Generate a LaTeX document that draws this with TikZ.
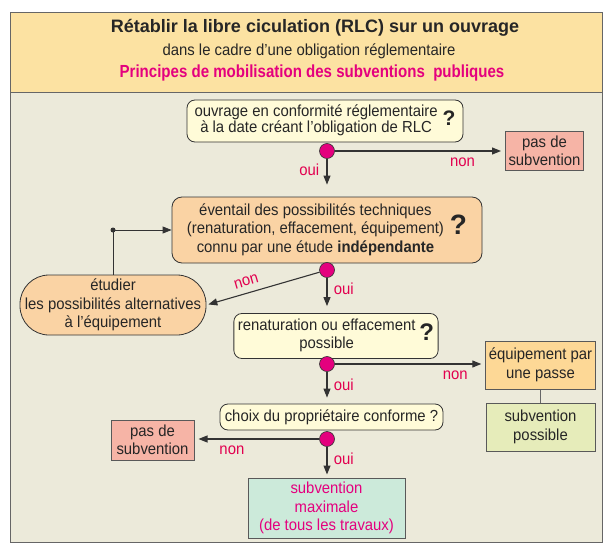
\documentclass[tikz,border=0pt]{standalone}
\usepackage{fontspec}
\setmainfont{Liberation Sans}[FakeStretch=0.93]
\newfontfamily\widefont{Liberation Sans}
\newfontfamily\narrowfont{Liberation Sans}[FakeStretch=0.86]
\usetikzlibrary{arrows.meta}
\definecolor{bandcol}{HTML}{FCE2A2}
\definecolor{groundcol}{HTML}{ECEADA}
\definecolor{askcol}{HTML}{FFFBD8}
\definecolor{orangecol}{HTML}{FAD3A4}
\definecolor{refusecol}{HTML}{F6B4A6}
\definecolor{passecol}{HTML}{FDD896}
\definecolor{greencol}{HTML}{E6ECBA}
\definecolor{mintcol}{HTML}{CCEADA}
\definecolor{pinkcol}{HTML}{E4007E}
\definecolor{answercol}{HTML}{E2004F}
\definecolor{linecol}{HTML}{333333}
\newcommand{\askmark}[1]{{\widefont\fontsize{#1}{#1}\selectfont\bfseries ?}}
\begin{document}
\begin{tikzpicture}[x=1pt,y=-1pt,
    every node/.style={font=\fontsize{16}{18.5}\selectfont, text=black!85},
    ask/.style={draw=linecol, line width=0.8pt, rounded corners=8pt, fill=askcol, inner sep=4pt},
    bigask/.style={ask, fill=orangecol, rounded corners=10pt},
    result/.style={draw=black!65, line width=1pt, fill=refusecol, align=center, inner sep=3pt},
    branch/.style={circle, draw=linecol, line width=0.6pt, fill=pinkcol, minimum size=15pt, inner sep=0pt},
    answer/.style={text=answercol},
    flow/.style={draw=linecol, line width=1.1pt, -{Triangle[length=9pt,width=7pt]}}]
  \useasboundingbox (0,0) rectangle (605,543);

  % Drawing frame and header band
  \fill[groundcol] (10,12) rectangle (602,542);
  \fill[bandcol] (10,12) rectangle (602,92);
  \draw[black!60, line width=0.8pt] (10,92) -- (602,92);
  \draw[black!60, line width=0.8pt] (10,12) rectangle (602,542);

  % Writing title
  \node (title) at (315,28) {\widefont\fontsize{18}{20}\selectfont\bfseries Rétablir la libre ciculation (RLC) sur un ouvrage};
  \node (subtitle) at (309,51) {dans le cadre d’une obligation réglementaire};
  \node[text=pinkcol] (motto) at (312,73) {\narrowfont\fontsize{17.5}{20}\selectfont\bfseries Principes de mobilisation des subventions\ \ publiques};

  % Marking question 1
  \node[ask, minimum width=276pt, minimum height=42pt] (q1) at (325,121)
    {\fontsize{16}{16.5}\selectfont\begin{tabular}{@{}c@{}}ouvrage en conformité réglementaire\\à la date créant l’obligation de RLC\end{tabular}\hspace{5pt}\askmark{21}};
  \node[branch] (b1) at (327,151) {};
  \node[result, minimum width=77pt, minimum height=39pt] (nosub1) at (544.5,151) {pas de\\subvention};

  % Marking question 2
  \node[bigask, minimum width=310pt, minimum height=66pt] (q2) at (327,230)
    {\begin{tabular}{@{}c@{}}éventail des possibilités techniques\\(renaturation, effacement, équipement)\\connu par une étude \textbf{indépendante}\end{tabular}\hspace{6pt}\askmark{28}};
  \node[branch] (b2) at (327,270) {};
  \node[draw=linecol, line width=0.8pt, fill=orangecol, rounded corners=29pt, minimum width=186pt, minimum height=60pt, align=center] (alt) at (113,305)
    {étudier\\les possibilités alternatives\\à l’équipement};
  \coordinate (loop) at (alt.north |- q2.west);

  % Marking question 3
  \node[ask, minimum width=204pt, minimum height=39pt] (q3) at (336,336)
    {\begin{tabular}{@{}c@{}}renaturation ou effacement\\possible\end{tabular}\hspace{4pt}\askmark{24}};
  \node[branch] (b3) at (327,364) {};
  \node[result, fill=passecol, minimum width=109pt, minimum height=48pt] (passe) at (540.5,365) {équipement par\\une passe};
  \node[result, fill=greencol, minimum width=109pt, minimum height=48pt] (possible) at (540.5,427) {subvention\\possible};

  % Marking question 4
  \node[ask, minimum width=223pt, minimum height=26pt, inner sep=2pt] (q4) at (331.5,417) {choix du propriétaire conforme ?};
  \node[branch] (b4) at (327,439) {};
  \node[result, minimum width=83pt, minimum height=40pt] (nosub2) at (152.5,440) {pas de\\subvention};
  \node[result, fill=mintcol, text=pinkcol, minimum width=157pt, minimum height=60pt] (maxi) at (326.5,508)
    {subvention\\maximale\\(de tous les travaux)};

  % Drawing connectors
  \draw[flow, shorten >=4pt] (b1) -- (b1 -| nosub1.west) node[answer, pos=0.75, below=3pt] {non};
  \draw[flow, shorten >=12pt] (b1) -- (q2.north) node[answer, pos=0.3, left=4pt] {oui};
  \draw[flow, shorten >=2pt] (b2) -- (alt.east) node[answer, pos=0.62, above=3pt, sloped] {non};
  \draw[flow, shorten >=7pt] (b2) -- (b2 |- q3.north) node[answer, pos=0.3, right=3pt] {oui};
  \draw[flow, shorten >=4pt] (b3) -- (b3 -| passe.west) node[answer, pos=0.8, below=3pt] {non};
  \draw[flow, shorten >=6pt] (b3) -- (q4.north -| b3) node[answer, pos=0.4, right=3pt] {oui};
  \draw[flow, shorten >=4pt] (b4) -- (b4 -| nosub2.east) node[answer, pos=0.7, below=3pt] {non};
  \draw[flow, shorten >=3pt] (b4) -- (maxi.north -| b4) node[answer, pos=0.4, right=3pt] {oui};
  \draw[flow, line width=0.8pt] (alt.north) -- (loop) -- (q2.west);
  \fill[linecol] (loop) circle (2.5pt);
  \draw[black!60, line width=1pt] (passe) -- (possible);
\end{tikzpicture}
\end{document}
